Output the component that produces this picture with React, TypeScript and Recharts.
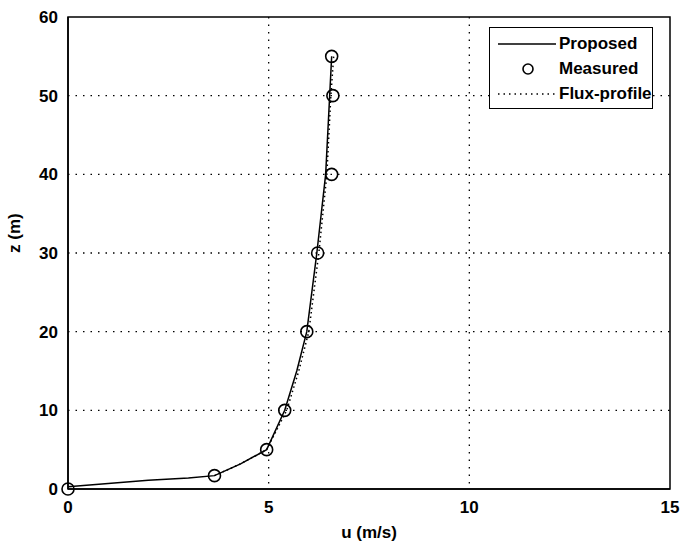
import React from "react";
import {
  ScatterChart,
  Scatter,
  XAxis,
  YAxis,
  CartesianGrid,
  ReferenceArea,
} from "recharts";

// measured wind profile (circles)
const measuredU = [0, 3.65, 4.95, 5.4, 5.95, 6.22, 6.57, 6.6, 6.57];
const measuredZ = [0, 1.7, 5, 10, 20, 30, 40, 50, 55];

// proposed model (solid line)
const proposedU = [0, 1, 2, 3, 3.65, 4.3, 4.95, 5.4, 5.7, 5.95, 6.2, 6.42, 6.52, 6.57];
const proposedZ = [0.3, 0.7, 1.1, 1.4, 1.7, 3.2, 5, 10, 15, 20, 30, 40, 50, 55];

// flux-profile relation (dotted line)
const fluxU = [3.65, 4.3, 4.95, 5.45, 5.75, 6.0, 6.25, 6.45, 6.55, 6.62];
const fluxZ = [1.7, 3.2, 5, 10, 15, 20, 30, 40, 50, 55];

const xTicks = [0, 5, 10, 15];
const yTicks = [0, 10, 20, 30, 40, 50, 60];

const toPoints = (us: number[], zs: number[]) => us.map((u, i) => ({ u, z: zs[i] }));

const measured = toPoints(measuredU, measuredZ);
const proposed = toPoints(proposedU, proposedZ);
const flux = toPoints(fluxU, fluxZ);

const FONT = "'Liberation Sans', Arial, sans-serif";

const NoDot = () => <g />;

const Ring = (props: any) => (
  <circle cx={props.cx} cy={props.cy} r={6} fill="none" stroke="#000" strokeWidth={1.6} />
);

function LegendBox() {
  const rows = [
    { label: "Proposed", kind: "solid" },
    { label: "Measured", kind: "circle" },
    { label: "Flux-profile", kind: "dot" },
  ];
  return (
    <div
      style={{
        position: "absolute",
        left: 489,
        top: 27,
        width: 164,
        height: 82,
        border: "1.5px solid #000",
        background: "#fff",
        fontFamily: FONT,
        fontSize: 17,
        fontWeight: "bold",
        boxSizing: "border-box",
        paddingTop: 3,
      }}
    >
      {rows.map((r) => (
        <div key={r.label} style={{ display: "flex", alignItems: "center", height: 25 }}>
          <svg width={68} height={20} style={{ flexShrink: 0 }}>
            {r.kind === "solid" && <line x1={8} x2={66} y1={10} y2={10} stroke="#000" strokeWidth={1.5} />}
            {r.kind === "circle" && <circle cx={38} cy={10} r={5} fill="none" stroke="#000" strokeWidth={1.6} />}
            {r.kind === "dot" && (
              <line x1={8} x2={66} y1={10} y2={10} stroke="#000" strokeWidth={1.5} strokeDasharray="1.5 4" />
            )}
          </svg>
          <span style={{ marginLeft: 1 }}>{r.label}</span>
        </div>
      ))}
    </div>
  );
}

export default function App() {
  const tickStyle = { fill: "#000", fontSize: 17, fontFamily: FONT, fontWeight: "bold" };
  const labelStyle = { fill: "#000", fontSize: 17, fontFamily: FONT, fontWeight: "bold" };
  return (
    <div style={{ position: "absolute", left: 0, top: 0, width: 682, height: 544, background: "#fff" }}>
      <ScatterChart width={682} height={544} margin={{ top: 17, right: 12, bottom: 0, left: 0 }}>
        <CartesianGrid
          stroke="#000"
          strokeWidth={1.3}
          strokeDasharray="1.5 6"
          horizontalValues={[10, 20, 30, 40, 50]}
          verticalValues={[5, 10]}
        />
        <XAxis
          type="number"
          dataKey="u"
          domain={[0, 15]}
          ticks={xTicks}
          height={55}
          tickLine={false}
          tickMargin={6}
          axisLine={{ stroke: "#000", strokeWidth: 1.5 }}
          tick={tickStyle}
          label={{ value: "u (m/s)", position: "insideBottom", offset: 6, ...labelStyle }}
        />
        <YAxis
          type="number"
          dataKey="z"
          domain={[0, 60]}
          ticks={yTicks}
          width={68}
          tickLine={false}
          tickMargin={4}
          axisLine={{ stroke: "#000", strokeWidth: 1.5 }}
          tick={tickStyle}
          label={{ value: "z (m)", angle: -90, position: "insideLeft", offset: 14, ...labelStyle }}
        />
        <ReferenceArea x1={0} x2={15} y1={0} y2={60} fill="none" stroke="#000" strokeWidth={1.5} ifOverflow="visible" />
        <Scatter
          name="Flux-profile"
          data={flux}
          line={{ stroke: "#000", strokeWidth: 1.5, strokeDasharray: "1.5 3" }}
          shape={NoDot}
          isAnimationActive={false}
        />
        <Scatter
          name="Proposed"
          data={proposed}
          line={{ stroke: "#000", strokeWidth: 1.5 }}
          shape={NoDot}
          isAnimationActive={false}
        />
        <Scatter name="Measured" data={measured} shape={Ring} isAnimationActive={false} />
      </ScatterChart>
      <LegendBox />
    </div>
  );
}
